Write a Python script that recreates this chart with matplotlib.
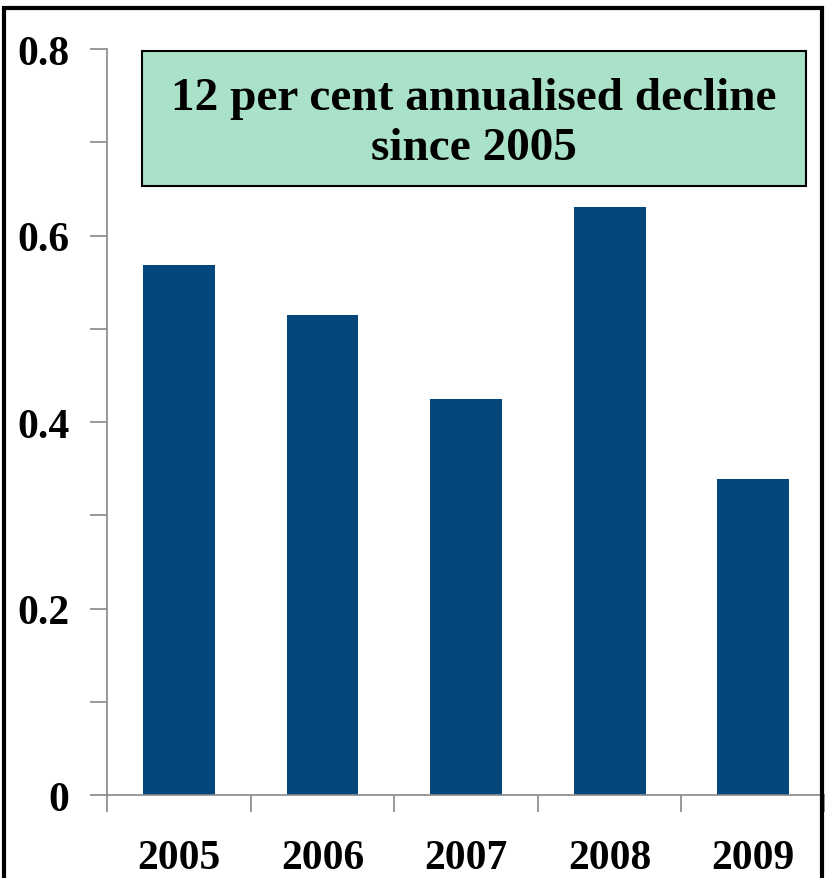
import matplotlib.pyplot as plt
from matplotlib.patches import Rectangle
from matplotlib.ticker import MultipleLocator

years = ['2005', '2006', '2007', '2008', '2009']
values = [0.568, 0.515, 0.425, 0.631, 0.339]
note = '12 per cent annualised decline\nsince 2005'

plt.rcParams['font.family'] = ['Liberation Serif', 'DejaVu Serif']

fig = plt.figure(figsize=(8.25, 8.79), dpi=100)
ax = fig.add_axes([0.1297, 0.0944, 0.8703, 0.8487])

x = list(range(len(years)))
ax.bar(x, values, width=0.5, color='#03477D', zorder=2)

ax.set_xlim(-0.5, len(years) - 0.5)
ax.set_ylim(0, 0.8)

# category ticks sit between bars, labels centred under bars
ax.set_xticks([i - 0.5 for i in range(len(years) + 1)])
ax.set_xticklabels([])
ax.set_xticks(x, minor=True)
ax.set_xticklabels(years, minor=True, fontsize=30, fontweight='bold')
ax.tick_params(axis='x', which='major', length=12, width=1.2, color='#888888', direction='out')
ax.tick_params(axis='x', which='minor', length=0, pad=32)

ax.yaxis.set_major_locator(MultipleLocator(0.2))
ax.yaxis.set_minor_locator(MultipleLocator(0.1))
ax.set_yticks([0, 0.2, 0.4, 0.6, 0.8])
ax.set_yticklabels(['0', '0.2', '0.4', '0.6', '0.8'], fontsize=30, fontweight='bold')
ax.tick_params(axis='y', which='both', length=12, width=1.2, color='#888888', direction='out', pad=15)

for side in ['top', 'right']:
    ax.spines[side].set_visible(False)
for side in ['left', 'bottom']:
    ax.spines[side].set_color('#888888')
    ax.spines[side].set_linewidth(1.2)

# note box
box = Rectangle((142 / 825, 1 - 187 / 879), (806 - 142) / 825, (187 - 52) / 879,
                transform=fig.transFigure, facecolor='#A9E2C9', edgecolor='black', lw=1.5)
fig.patches.append(box)
fig.text((142 + 806) / 2 / 825, 1 - 124 / 879, note, ha='center', va='center',
         fontsize=34, fontweight='bold', linespacing=1.22)

# outer frame
frame = Rectangle((4 / 825, -0.05), (822 - 4) / 825, 1 - 9 / 879 + 0.05,
                  transform=fig.transFigure, facecolor='none', edgecolor='black', lw=3,
                  clip_on=False)
fig.patches.append(frame)

fig.savefig('out.png', dpi=100)
